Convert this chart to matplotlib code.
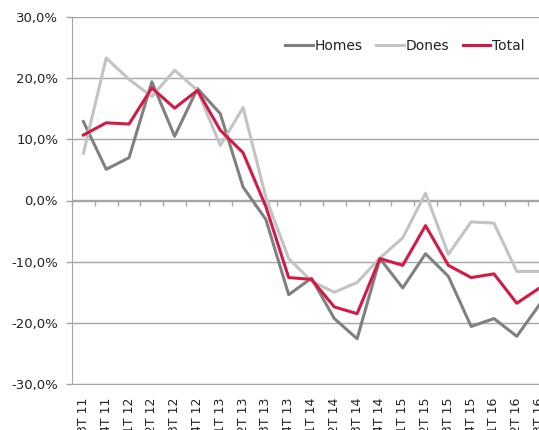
import matplotlib
matplotlib.use("Agg")
import matplotlib.pyplot as plt
import numpy as np
from matplotlib.ticker import FuncFormatter, FixedLocator

quarters = ["3T 11", "4T 11", "1T 12", "2T 12", "3T 12", "4T 12", "1T 13",
            "2T 13", "3T 13", "4T 13", "1T 14", "2T 14", "3T 14", "4T 14",
            "1T 15", "2T 15", "3T 15", "4T 15", "1T 16", "2T 16", "3T 16"]
homes = [12.9, 5.1, 7.0, 19.4, 10.5, 18.3, 14.2, 2.2, -3.1, -15.4, -12.7,
         -19.3, -22.6, -9.5, -14.3, -8.7, -12.4, -20.6, -19.3, -22.2, -17.0]
dones = [7.7, 23.3, 19.8, 17.0, 21.3, 18.0, 9.0, 15.2, 0.5, -9.5, -13.2,
         -15.0, -13.4, -9.4, -6.1, 1.2, -8.8, -3.5, -3.7, -11.6, -11.6]
total = [10.7, 12.7, 12.5, 18.4, 15.1, 18.0, 11.5, 7.8, -1.0, -12.6, -12.9,
         -17.4, -18.5, -9.5, -10.6, -4.1, -10.6, -12.6, -12.0, -16.8, -14.3]

grid_col = "#a6a6a6"
fig = plt.figure(figsize=(5.39, 4.30), dpi=100)
ax = fig.add_axes([72 / 539, 1 - 384 / 430, 479 / 539, 367 / 430])

x = np.arange(len(quarters))
ax.plot(x, homes, color="#808080", lw=2.2, label="Homes")
ax.plot(x, dones, color="#c3c3c3", lw=2.2, label="Dones")
ax.plot(x, total, color="#d21a44", lw=2.2, label="Total")

ax.set_xlim(-0.5, len(quarters) - 0.5)
ax.set_ylim(-30, 30)
ax.set_yticks(np.arange(-30, 31, 10))
ax.yaxis.set_major_formatter(FuncFormatter(lambda v, p: f"{v:.1f}%".replace(".", ",")))
ax.grid(axis="y", color=grid_col, lw=1)
ax.set_axisbelow(True)

ax.set_xticks(x)
ax.set_xticklabels(quarters, rotation=90, va="top")
ax.tick_params(axis="x", length=0, pad=10, labelsize=9, colors="#222222")
ax.tick_params(axis="y", length=4, width=1, color=grid_col, labelsize=9.5,
               labelcolor="#222222", pad=6)

for s in ["top", "right"]:
    ax.spines[s].set_visible(False)
for s in ["left", "bottom"]:
    ax.spines[s].set_color(grid_col)

# axis line at 0% with category boundary ticks (pointing down)
sec = ax.secondary_xaxis(0.5)
sec.xaxis.set_major_locator(FixedLocator(np.arange(-0.5, len(quarters), 1)))
sec.tick_params(axis="x", length=4, width=1, color=grid_col, direction="in",
                labelbottom=False, labeltop=False)
sec.set_xticklabels([])
for sp in sec.spines.values():
    sp.set_color(grid_col)
    sp.set_linewidth(1)

leg = ax.legend(loc="upper right", bbox_to_anchor=(1.0 - 14 / 479, 0.975), ncol=3,
                frameon=False, fontsize=10, handlelength=2.0, handletextpad=0.1,
                columnspacing=1.0)
for t in leg.get_texts():
    t.set_color("#222222")

fig.savefig("out.png", dpi=100)
